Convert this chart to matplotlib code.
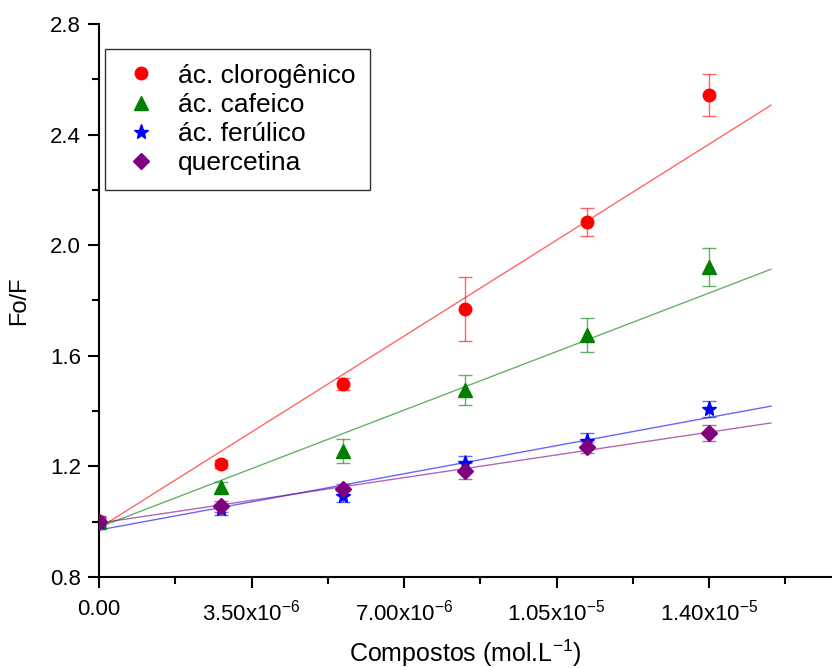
import matplotlib
matplotlib.use("Agg")
import matplotlib.pyplot as plt
import numpy as np
from matplotlib.ticker import MultipleLocator, FixedLocator

plt.rcParams['font.family'] = ['Liberation Sans', 'DejaVu Sans']
plt.rcParams['mathtext.default'] = 'regular'

# ---- data ----
x = [0.0, 2.8e-6, 5.6e-6, 8.4e-6, 1.12e-5, 1.4e-5]
series_names = ['ác. clorogênico', 'ác. cafeico', 'ác. ferúlico', 'quercetina']
clorogenico = [1.003, 1.209, 1.498, 1.769, 2.084, 2.543]
clorogenico_err = [0.015, 0.015, 0.02, 0.115, 0.05, 0.076]
cafeico = [1.0, 1.125, 1.256, 1.476, 1.675, 1.921]
cafeico_err = [0.015, 0.02, 0.043, 0.055, 0.063, 0.07]
ferulico = [1.0, 1.045, 1.093, 1.212, 1.292, 1.408]
ferulico_err = [0.02, 0.02, 0.02, 0.025, 0.03, 0.03]
quercetina = [1.0, 1.056, 1.118, 1.183, 1.27, 1.321]
quercetina_err = [0.015, 0.02, 0.02, 0.03, 0.02, 0.03]
# linear fit lines (intercept, slope)
fit_intercepts = [0.977, 0.98, 0.970, 0.995]
fit_slopes = [9.916e4, 6.05e4, 2.905e4, 2.348e4]
fit_x_range = [0.0, 1.542e-5]

xticks = [0.0, 3.5e-6, 7.0e-6, 1.05e-5, 1.4e-5]
xticklabels = ['0.00', '3.50x10$^{-6}$', '7.00x10$^{-6}$', '1.05x10$^{-5}$', '1.40x10$^{-5}$']
yticks = [0.8, 1.2, 1.6, 2.0, 2.4, 2.8]

colors = ['#ff0000', '#007f00', '#0000ff', '#800080']
markers = ['o', '^', '*', 'D']
msizes = [9, 10, 11, 8]
ys = [clorogenico, cafeico, ferulico, quercetina]
errs = [clorogenico_err, cafeico_err, ferulico_err, quercetina_err]

fig = plt.figure(figsize=(8.32, 6.68), dpi=100)
ax = fig.add_axes([99/832, 1-577/668, 732/832, 553/668])

fx = np.array(fit_x_range)
for i in range(4):
    ax.plot(fx, fit_intercepts[i] + fit_slopes[i]*fx, color=colors[i], lw=1.0, alpha=0.6, zorder=2)
for i in range(4):
    ax.errorbar(x, ys[i], yerr=errs[i], fmt='none', ecolor=colors[i], elinewidth=1.0,
                capsize=5, capthick=1.0, alpha=0.6, zorder=3)
    ax.plot(x, ys[i], linestyle='none', marker=markers[i], color=colors[i],
            markersize=msizes[i], label=series_names[i], zorder=4)

ax.set_xlim(0, 1.68e-5)
ax.set_ylim(0.8, 2.8)
ax.spines['top'].set_visible(False)
ax.spines['right'].set_visible(False)
ax.spines['left'].set_linewidth(1.5)
ax.spines['bottom'].set_linewidth(1.5)
ax.xaxis.set_major_locator(FixedLocator(xticks))
ax.set_xticklabels(xticklabels)
ax.xaxis.set_minor_locator(MultipleLocator(1.75e-6))
ax.set_yticks(yticks)
ax.set_yticklabels([f'{v:.1f}' for v in yticks])
ax.yaxis.set_minor_locator(MultipleLocator(0.2))
ax.tick_params(which='major', direction='out', length=8, width=1.5, labelsize=16, pad=5)
ax.tick_params(which='minor', direction='out', length=5, width=1.5)
ax.tick_params(axis='x', pad=8)

ax.set_ylabel('Fo/F', fontsize=17, labelpad=14)
ax.set_xlabel('Compostos (mol.L$^{-1}$)', fontsize=18, labelpad=9)

leg = ax.legend(loc='upper left', bbox_to_anchor=(6/732, 1-25/553), fontsize=19,
                frameon=True, fancybox=False, edgecolor='black', borderpad=0.55,
                handlelength=1.6, handletextpad=0.6, labelspacing=0.2, borderaxespad=0)
leg.get_frame().set_linewidth(1.0)

fig.savefig('out.png', dpi=100)
